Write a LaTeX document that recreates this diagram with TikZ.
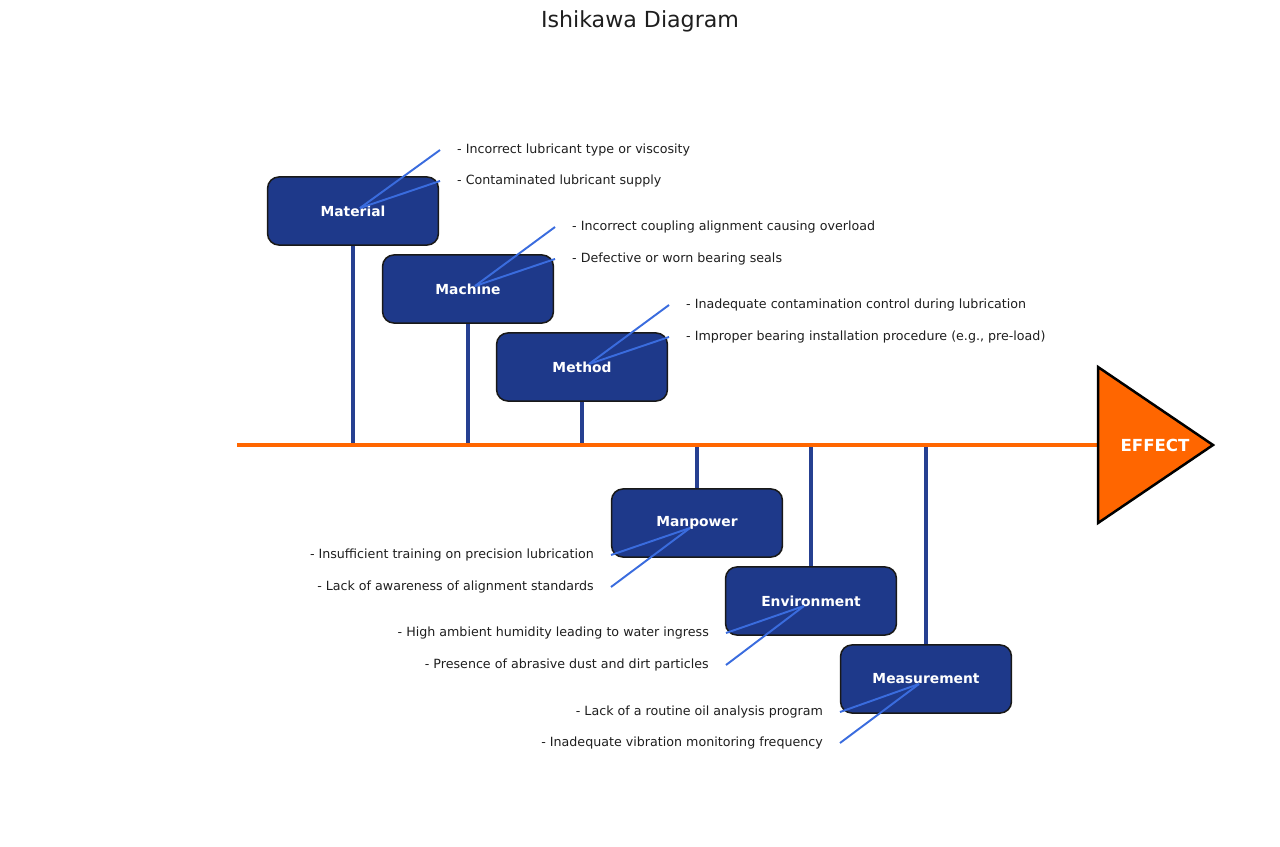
\documentclass[tikz,border=0pt]{standalone}
\usepackage{fontspec}
\setmainfont{DejaVu Sans}
\usetikzlibrary{positioning}
\definecolor{boxblue}{RGB}{30,57,138}
\definecolor{bonecol}{RGB}{38,64,145}
\definecolor{twigcol}{RGB}{58,108,222}
\definecolor{spinecol}{RGB}{255,102,0}
\definecolor{txtcol}{RGB}{30,30,30}

\begin{document}
\begin{tikzpicture}[x=0.254mm,y=-0.254mm,
    cat/.style={draw=black!90,line width=1.1pt,fill=boxblue,rounded corners=2.9mm,minimum width=43.4mm,minimum height=17.3mm,inner sep=0pt,text=white,font=\fontsize{10}{12}\selectfont\bfseries},
    causeR/.style={anchor=west,inner xsep=4.3mm,inner ysep=0pt,text=txtcol,font=\fontsize{9.15}{11}\selectfont},
    causeL/.style={anchor=east,inner xsep=4.3mm,inner ysep=0pt,text=txtcol,font=\fontsize{9.15}{11}\selectfont},
    bone/.style={draw=bonecol,line width=2.2pt},
    twig/.style={draw=twigcol,line width=1.4pt},
    spine/.style={draw=spinecol,line width=3pt}]
  \useasboundingbox (0,0) rectangle (1280,846);
  \node[text=txtcol,font=\fontsize{16}{19}\selectfont] (title) at (640,21) {Ishikawa Diagram};

  % categories
  \node[cat] (mat) at (353,211) {Material};
  \node[cat] (mach) at (468,289) {Machine};
  \node[cat] (meth) at (582,367) {Method};
  \node[cat] (man) at (697,523) {Manpower};
  \node[cat] (env) at (811,601) {Environment};
  \node[cat] (meas) at (926,679) {Measurement};

  % spine and effect
  \coordinate (tail) at (237,445);
  \coordinate (head) at (1098,445);
  \draw[bone] (mat.south) -- (mat.south |- tail);
  \draw[bone] (mach.south) -- (mach.south |- tail);
  \draw[bone] (meth.south) -- (meth.south |- tail);
  \draw[bone] (man.north) -- (man.north |- tail);
  \draw[bone] (env.north) -- (env.north |- tail);
  \draw[bone] (meas.north) -- (meas.north |- tail);
  \draw[spine] (tail) -- (head);
  \draw[fill=spinecol,line width=1.8pt,line join=miter] (1098,367) -- (1213,445) -- (1098,523) -- cycle;
  \node[text=white,font=\fontsize{12}{14}\selectfont\bfseries] (eff) at (1155,445) {EFFECT};

  % causes
  \node[causeR] (mat1) at (440,150) {- Incorrect lubricant type or viscosity};
  \node[causeR] (mat2) at (440,181) {- Contaminated lubricant supply};
  \node[causeR] (mach1) at (555,227) {- Incorrect coupling alignment causing overload};
  \node[causeR] (mach2) at (555,259) {- Defective or worn bearing seals};
  \node[causeR] (meth1) at (669,305) {- Inadequate contamination control during lubrication};
  \node[causeR] (meth2) at (669,337) {- Improper bearing installation procedure (e.g., pre-load)};
  \node[causeL] (man1) at (611,555) {- Insufficient training on precision lubrication};
  \node[causeL] (man2) at (611,587) {- Lack of awareness of alignment standards};
  \node[causeL] (env1) at (726,633) {- High ambient humidity leading to water ingress};
  \node[causeL] (env2) at (726,665) {- Presence of abrasive dust and dirt particles};
  \node[causeL] (meas1) at (840,712) {- Lack of a routine oil analysis program};
  \node[causeL] (meas2) at (840,743) {- Inadequate vibration monitoring frequency};

  \draw[twig] ([shift={(7,-3)}]mat.center) -- (mat1.west);
  \draw[twig] ([shift={(7,-3)}]mat.center) -- (mat2.west);
  \draw[twig] ([shift={(7,-3)}]mach.center) -- (mach1.west);
  \draw[twig] ([shift={(7,-3)}]mach.center) -- (mach2.west);
  \draw[twig] ([shift={(7,-3)}]meth.center) -- (meth1.west);
  \draw[twig] ([shift={(7,-3)}]meth.center) -- (meth2.west);
  \draw[twig] ([shift={(-7,5)}]man.center) -- (man1.east);
  \draw[twig] ([shift={(-7,5)}]man.center) -- (man2.east);
  \draw[twig] ([shift={(-7,5)}]env.center) -- (env1.east);
  \draw[twig] ([shift={(-7,5)}]env.center) -- (env2.east);
  \draw[twig] ([shift={(-7,5)}]meas.center) -- (meas1.east);
  \draw[twig] ([shift={(-7,5)}]meas.center) -- (meas2.east);
\end{tikzpicture}
\end{document}
